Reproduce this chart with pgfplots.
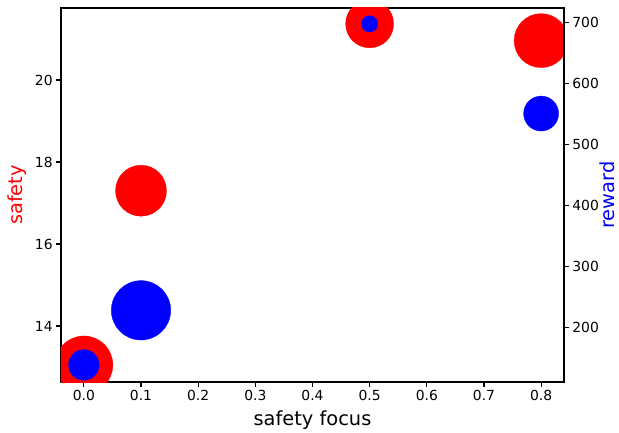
\documentclass[border=0pt]{standalone}
\usepackage{pgfplots}
\pgfplotsset{compat=1.18}
\usepackage{fontspec}
\setmainfont{DejaVu Sans}
\definecolor{mplred}{rgb}{1,0,0}
\definecolor{mplblue}{rgb}{0,0,1}

\pgfplotstableread{
x y r
0.0 13.05 29
0.1 17.30 25.5
0.5 21.37 24
0.8 20.96 27
}\safetydata

\pgfplotstableread{
x y r
0.0 139 15.3
0.1 228.5 29.7
0.5 698 8.2
0.8 551 17.5
}\rewarddata

\begin{document}
\begin{tikzpicture}
\useasboundingbox (-61pt,-50pt) rectangle (558pt,382pt);
\pgfplotsset{
  common/.style={
    at={(0,0)}, anchor=south west,
    width=503pt, height=374pt, scale only axis,
    xmin=-0.04, xmax=0.84,
    tick label style={font=\fontsize{13.9}{16}\selectfont, black},
    label style={font=\fontsize{19.4}{23}\selectfont},
    /pgf/number format/assume math mode=true,
    tick align=outside, major tick length=4.86pt,
    axis line style={line width=1.1pt},
    every tick/.style={line width=1.1pt, black},
    clip marker paths=true,
  },
  bub/.style={
    scatter, only marks, mark=*,
    scatter/use mapped color={draw=#1, fill=#1},
    mark options={line width=0.3pt},
    visualization depends on={\thisrow{r}\as\rad},
    scatter/@pre marker code/.append style={/tikz/mark size=\rad},
  }
}
\begin{axis}[common, name=a,
  ymin=12.634, ymax=21.756,
  ytick={14,16,18,20},
  xtick={0,0.1,0.2,0.3,0.4,0.5,0.6,0.7,0.8},
  xticklabel style={/pgf/number format/.cd, fixed, fixed zerofill, precision=1},
  xtick pos=bottom, ytick pos=left,
  xlabel={safety focus},
  ylabel={safety},
  ylabel style={mplred, at={(rel axis cs:0,0.5)}, anchor=center, yshift=44pt},
  xlabel style={at={(rel axis cs:0.5,0)}, anchor=center, yshift=-38pt},
]
\addplot[bub=mplred] table[x=x, y=y] {\safetydata};
\end{axis}
\begin{axis}[common,
  ymin=111, ymax=724,
  axis y line*=right, axis x line=none,
  ytick={200,300,400,500,600,700},
  ylabel={reward},
  ylabel style={mplblue, at={(rel axis cs:1,0.5)}, anchor=center, yshift=-43pt},
]
\addplot[bub=mplblue] table[x=x, y=y] {\rewarddata};
\end{axis}
\end{tikzpicture}
\end{document}
